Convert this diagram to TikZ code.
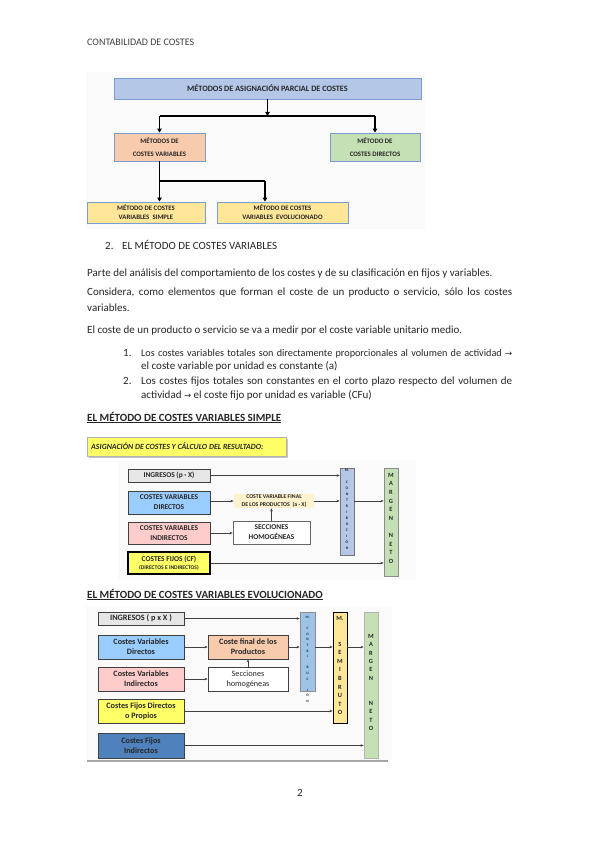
\documentclass[tikz,border=0pt]{standalone}
\usepackage{fontspec}
\setmainfont{Carlito}
\newfontfamily\djv{DejaVu Sans}
\usetikzlibrary{arrows.meta}
\definecolor{tblue}{HTML}{B4C7E7}
\definecolor{tborder}{HTML}{7A9CD3}
\definecolor{torange}{HTML}{F8CBAD}
\definecolor{tgreen}{HTML}{C5E0B4}
\definecolor{tyellow}{HTML}{FFE699}
\definecolor{lgray}{HTML}{E7E6E6}
\definecolor{cvdblue}{HTML}{99CCFF}
\definecolor{cvipink}{HTML}{FFCCCC}
\definecolor{byellow}{HTML}{FFFF66}
\definecolor{beige}{HTML}{FFF2CC}
\definecolor{barblue}{HTML}{9DC3E6}
\definecolor{darkblue}{HTML}{4F81BD}
\definecolor{txt}{HTML}{262626}
\newcommand{\sqline}[2]{\makebox[#1][s]{#2}}
\begin{document}
\begin{tikzpicture}[x=1pt,y=-1pt,
  tbox/.style={draw=tborder, line width=0.9pt, align=center, inner sep=0pt,
    font=\fontsize{6.8}{13}\selectfont\bfseries, text=txt},
  sbox/.style={draw=black!75, line width=0.8pt, align=center, inner sep=0pt,
    font=\fontsize{7.4}{10}\selectfont\bfseries, text=txt},
  ebox/.style={draw=black!75, line width=0.8pt, align=center, inner sep=0pt,
    font=\fontsize{8.2}{10}\selectfont\bfseries, text=txt},
  bar/.style={draw=black!60, line width=0.8pt, align=center, inner sep=0pt,
    minimum width=14pt},
  conn/.style={line width=1.4pt, black},
  conna/.style={conn, -{Triangle[length=4pt,width=4.5pt]}},
  arr/.style={line width=0.8pt, black!75, -{Stealth[length=3pt,width=2.6pt]}},
  body/.style={anchor=base west, inner sep=0pt, text=txt, font=\fontsize{11}{12}\selectfont},
  head/.style={anchor=base west, inner sep=0pt, text=txt, font=\fontsize{11}{12}\selectfont\bfseries},
]
\useasboundingbox[fill=white] (0,0) rectangle (600,848);

% header
\node[body, font=\fontsize{10}{11}\selectfont, text=black!75] (hdr) at (87,46) {CONTABILIDAD DE COSTES};

% ---------- top diagram ----------
\fill[gray!4] (86,72) rectangle (425,229);
\node[tbox, fill=tblue, minimum width=307pt, minimum height=21pt, font=\fontsize{8.2}{10}\selectfont\bfseries] (top) at (267.5,88.5) {MÉTODOS DE ASIGNACIÓN PARCIAL DE COSTES};
\node[tbox, fill=torange, minimum width=91pt, minimum height=28pt] (mcv) at (159.5,147) {MÉTODOS DE\\COSTES VARIABLES};
\node[tbox, fill=tgreen, minimum width=90pt, minimum height=28pt] (mcd) at (375,147) {MÉTODO DE\\COSTES DIRECTOS};
\node[tbox, fill=tyellow, minimum width=118pt, minimum height=21pt, font=\fontsize{6.8}{9}\selectfont\bfseries] (mvs) at (146,212.5) {MÉTODO DE COSTES\\VARIABLES\ \ SIMPLE};
\node[tbox, fill=tyellow, minimum width=131pt, minimum height=21pt, font=\fontsize{6.8}{9}\selectfont\bfseries] (mve) at (282.5,212.5) {MÉTODO DE COSTES\\VARIABLES\ \ EVOLUCIONADO};
\coordinate (j1) at (267.5,116);
\coordinate (j2) at (159.5,181);
\coordinate (j2r) at (265,181);
\draw[conna] (top.south) -- (j1);
\draw[conn] (mcv.north |- j1) -- (mcd.north |- j1);
\draw[conna] (mcv.north |- j1) -- (mcv.north);
\draw[conna] (mcd.north |- j1) -- (mcd.north);
\draw[conn] (mcv.south) -- (j2) -- (j2r);
\draw[conna] (j2) -- (j2 |- mvs.north);
\draw[conna] (j2r) -- (j2r |- mve.north);

% ---------- text ----------
\node[body] (n2) at (105,249.5) {2.};
\node[body] (t2) at (122,249.5) {EL MÉTODO DE COSTES VARIABLES};
\node[body] (p1) at (87,276) {Parte del análisis del comportamiento de los costes y de su clasificación en fijos y variables.};
\node[body] (p2) at (87,295) {\sqline{425pt}{Considera, como elementos que forman el coste de un producto o servicio, sólo los costes}};
\node[body] (p2b) at (87,311) {variables.};
\node[body] (p3) at (87,333) {El coste de un producto o servicio se va a medir por el coste variable unitario medio.};
\node[body] (l1n) at (123,356) {1.};
\node[body, font=\fontsize{10.2}{12}\selectfont] (l1) at (141,356) {\sqline{371pt}{Los costes variables totales son directamente proporcionales al volumen de actividad {\djv\fontsize{8.5}{9}\selectfont →}}};
\node[body] (l1b) at (141,369.5) {el coste variable por unidad es constante (a)};
\node[body] (l2n) at (123,384) {2.};
\node[body] (l2) at (141,384) {\sqline{371pt}{Los costes fijos totales son constantes en el corto plazo respecto del volumen de}};
\node[body] (l2b) at (141,398) {actividad {\djv\fontsize{8.5}{9}\selectfont →} el coste fijo por unidad es variable (CFu)};

% ---------- simple ----------
\node[head] (hs) at (87,421) {\underline{EL MÉTODO DE COSTES VARIABLES SIMPLE}};
\fill[gray!4] (118,460) rectangle (416,580);
\fill[gray!45] (89,439) rectangle (288,458);
\node[draw=gray!60, fill=byellow, minimum width=199pt, minimum height=19pt, inner sep=0pt, anchor=north west] (ban) at (87,437) {};
\node[anchor=west, inner sep=0pt, font=\fontsize{7.9}{9}\selectfont\bfseries\itshape, text=txt] (bant) at (91,446.5) {ASIGNACIÓN DE COSTES Y CÁLCULO DEL RESULTADO:};

\node[sbox, fill=lgray, minimum width=82pt, minimum height=13pt] (ing1) at (169,475.5) {INGRESOS (p · X)};
\node[sbox, fill=cvdblue, minimum width=82pt, minimum height=23pt] (cvd1) at (169,502.5) {COSTES VARIABLES\\DIRECTOS};
\node[sbox, fill=cvipink, minimum width=82pt, minimum height=22pt] (cvi1) at (169,533) {COSTES VARIABLES\\INDIRECTOS};
\node[sbox, fill=byellow, draw=black, line width=1.2pt, minimum width=82pt, minimum height=22pt] (cf1) at (169,563) {COSTES FIJOS (CF)\\[-2pt]{\fontsize{5.6}{6}\selectfont (DIRECTOS E INDIRECTOS)}};
\node[sbox, fill=beige, draw=none, minimum width=80pt, minimum height=14pt, font=\fontsize{5.8}{7.2}\selectfont\bfseries] (cvf1) at (274,501) {COSTE VARIABLE FINAL\\DE LOS PRODUCTOS\ \ (a · X)};
\node[sbox, fill=white, draw=black!60, minimum width=77pt, minimum height=23pt] (sh1) at (271.5,532.5) {SECCIONES\\HOMOGÉNEAS};
\node[bar, fill=tblue, draw=black!55, minimum height=87pt] (mc1) at (347,511.5) {};
\node[anchor=north, inner sep=0pt, align=center, font=\fontsize{3.8}{6}\selectfont\bfseries, text=txt] (mc1t) at (347,469) {M.\\ \\C\\O\\N\\T\\R\\I\\B\\U\\C\\I\\Ó\\N};
\node[bar, fill=tgreen, draw=black!45, minimum height=108pt] (mn1) at (391,522) {};
\node[anchor=north, inner sep=0pt, align=center, font=\fontsize{6.4}{8.6}\selectfont\bfseries, text=txt] (mn1t) at (391,473) {M\\A\\R\\G\\E\\N\\ \\N\\E\\T\\O};

\draw[arr] (ing1.east) -- (ing1.east -| mc1.west);
\draw[arr] (cvd1.east |- cvf1.west) -- (cvf1.west);
\draw[arr] (cvf1.east) -- (cvf1.east -| mc1.west);
\draw[arr] (cvi1.east) -- (cvi1.east -| sh1.west);
\draw[arr] (sh1.north) -- (sh1.north |- cvf1.south);
\draw[arr] (mc1.east |- cvf1.east) -- (mn1.west |- cvf1.east);
\draw[arr] (cf1.east) -- (cf1.east -| mn1.west);

% ---------- evolucionado ----------
\node[head] (he) at (87,598) {\underline{EL MÉTODO DE COSTES VARIABLES EVOLUCIONADO}};
\fill[gray!4] (86,606) rectangle (392,760);
\node[ebox, fill=lgray, minimum width=86pt, minimum height=13pt] (ing2) at (141,618.5) {INGRESOS ( p x X )};
\node[ebox, fill=cvdblue, minimum width=86pt, minimum height=24pt] (cvd2) at (141,647) {Costes Variables\\Directos};
\node[ebox, fill=cvipink, minimum width=86pt, minimum height=24pt] (cvi2) at (141,679) {Costes Variables\\Indirectos};
\node[ebox, fill=byellow, minimum width=86pt, minimum height=24pt] (cfd2) at (141,711) {Costes Fijos Directos\\o Propios};
\node[ebox, fill=darkblue, minimum width=86pt, minimum height=25pt] (cfi2) at (141,745.5) {Costes Fijos\\Indirectos};
\node[ebox, fill=torange, minimum width=80pt, minimum height=24pt] (cfp2) at (248,647) {Coste final de los\\Productos};
\node[ebox, fill=white, minimum width=80pt, minimum height=24pt, font=\fontsize{8.2}{10}\selectfont] (sh2) at (248,679) {Secciones\\homogéneas};
\node[bar, fill=barblue, draw=black!45, minimum width=15pt, minimum height=79pt] (mc2) at (307.5,651.5) {};
\node[anchor=north, inner sep=0pt, align=center, font=\fontsize{3.5}{5.6}\selectfont\bfseries, text=txt] (mc2t) at (307.5,616) {M.\\ \\C\\O\\N\\T\\R\\I\\ \\B\\U\\C\\ \\I\\Ó\\N};
\node[bar, fill=tyellow, draw=black, minimum height=111pt] (msb2) at (340,667.5) {};
\node[anchor=north, inner sep=0pt, align=center, font=\fontsize{6.4}{8.6}\selectfont\bfseries, text=txt] (msb2t) at (340,616) {M.\\ \\ \\S\\E\\M\\I\\B\\R\\U\\T\\O};
\node[bar, fill=tgreen, draw=black!30, minimum height=146pt] (mn2) at (371,685) {};
\node[anchor=north, inner sep=0pt, align=center, font=\fontsize{6.4}{8.4}\selectfont\bfseries, text=txt] (mn2t) at (371,634) {M\\A\\R\\G\\E\\N\\ \\ \\N\\E\\T\\O};

\draw[arr] (ing2.east) -- (ing2.east -| mc2.west);
\draw[arr] (cvd2.east) -- (cfp2.west);
\draw[arr] (cfp2.east) -- (cfp2.east -| mc2.west);
\draw[arr] (cvi2.east) -- (sh2.west);
\draw[arr] (sh2.north) -- (cfp2.south);
\draw[arr] (mc2.east |- cfp2.east) -- (msb2.west |- cfp2.east);
\draw[arr] (msb2.east |- cfp2.east) -- (mn2.west |- cfp2.east);
\draw[arr] (cfd2.east) -- (cfd2.east -| msb2.west);
\draw[arr] (cfi2.east) -- (cfi2.east -| mn2.west);
\coordinate (r1) at (87,761);
\coordinate (r2) at (388,761);
\draw[line width=1.3pt, gray!70] (r1) -- (r2);

% page number
\node[body] (pg) at (297,796) {2};
\end{tikzpicture}
\end{document}
